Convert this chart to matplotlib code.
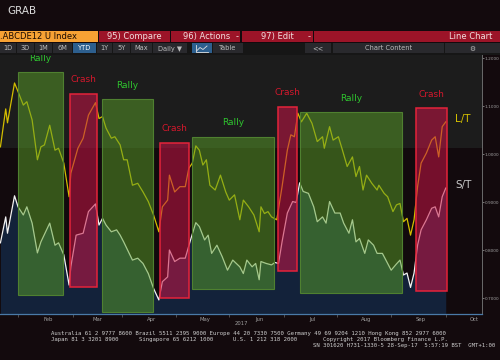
import pandas as pd
import matplotlib
matplotlib.use('Agg')
import matplotlib.pyplot as plt
import matplotlib.dates as mdates
from matplotlib.patches import Rectangle
from matplotlib.lines import Line2D

# Serie larga (L/T) y corta (S/T): dias desde el 1 ene 2017 y valor del indice
lt_days = [4, 7, 8, 12, 14, 17, 19, 22, 25, 27, 29, 32, 35, 37, 40, 43, 44, 48, 51, 54,
           58, 60, 62, 64, 67, 69, 72, 74, 76, 79, 82, 85, 88, 91, 94, 96, 99, 100, 103, 106,
           109, 111, 113, 115, 117, 119, 121, 123, 126, 129, 132, 134, 137, 140, 142, 145, 148, 151, 152, 154,
           156, 158, 161, 164, 167, 169, 171, 173, 175, 178, 181, 184, 187, 188, 191, 193, 196, 198, 201, 204,
           206, 208, 210, 212, 215, 218, 219, 222, 224, 227, 229, 231, 233, 235, 237, 239, 241, 243, 246, 249,
           251, 253, 255, 257]
lt_vals = [1.015, 1.094, 1.065, 1.148, 1.130, 1.102, 1.109, 1.071, 0.988, 1.015,
           1.019, 1.060, 1.008, 1.012, 0.981, 0.911, 0.960, 1.012, 1.033, 1.081,
           1.107, 1.074, 1.078, 1.054, 1.033, 1.036, 1.019, 0.988, 0.988, 0.935,
           0.939, 0.921, 0.901, 0.873, 0.838, 0.890, 0.904, 0.956, 0.921, 0.932,
           0.932, 0.970, 0.981, 1.017, 1.008, 0.977, 0.988, 0.935, 0.925, 0.956,
           0.921, 0.904, 0.915, 0.863, 0.904, 0.890, 0.873, 0.838, 0.890, 0.876,
           0.880, 0.869, 0.863, 0.932, 1.008, 1.040, 1.036, 1.085, 1.067, 1.085,
           1.064, 1.026, 1.036, 1.012, 1.057, 1.029, 1.036, 1.012, 0.974, 0.994,
           0.953, 0.974, 0.925, 0.956, 0.939, 0.925, 0.935, 0.918, 0.911, 0.880,
           0.894, 0.897, 0.859, 0.866, 0.831, 0.863, 0.932, 0.981, 1.002, 1.029,
           1.036, 0.994, 1.057, 1.067]

st_days = [4, 7, 8, 12, 14, 17, 19, 22, 25, 27, 32, 35, 37, 40, 43, 44, 47, 51, 54, 58,
           60, 62, 64, 67, 70, 72, 74, 79, 82, 85, 88, 91, 94, 96, 99, 100, 103, 106, 109, 112,
           115, 117, 120, 122, 124, 127, 130, 133, 136, 140, 142, 144, 147, 149, 151, 152, 155, 158, 160, 162,
           164, 167, 170, 172, 174, 176, 179, 182, 184, 187, 189, 191, 194, 197, 199, 202, 204, 206, 208, 211,
           213, 216, 218, 221, 223, 226, 229, 231, 233, 235, 237, 239, 241, 243, 246, 249, 251, 253, 255, 257]
st_vals = [0.815, 0.869, 0.835, 0.913, 0.890, 0.873, 0.890, 0.856, 0.794, 0.817,
           0.856, 0.810, 0.815, 0.790, 0.727, 0.765, 0.831, 0.835, 0.880, 0.896,
           0.852, 0.866, 0.852, 0.838, 0.842, 0.831, 0.817, 0.779, 0.783, 0.772,
           0.751, 0.720, 0.696, 0.734, 0.744, 0.800, 0.776, 0.783, 0.783, 0.821,
           0.857, 0.849, 0.821, 0.831, 0.793, 0.810, 0.786, 0.758, 0.779, 0.765,
           0.751, 0.779, 0.765, 0.772, 0.738, 0.776, 0.772, 0.769, 0.774, 0.772,
           0.817, 0.877, 0.901, 0.899, 0.940, 0.922, 0.918, 0.890, 0.859, 0.869,
           0.856, 0.901, 0.877, 0.877, 0.856, 0.835, 0.863, 0.817, 0.824, 0.793,
           0.821, 0.810, 0.793, 0.793, 0.779, 0.758, 0.771, 0.779, 0.748, 0.752,
           0.722, 0.752, 0.810, 0.842, 0.863, 0.887, 0.890, 0.869, 0.911, 0.929]

# Cajas de fases (Rally / Crash)
box_labels = ['Rally', 'Crash', 'Rally', 'Crash', 'Rally', 'Crash', 'Rally', 'Crash']
box_from = [14.0, 43.5, 61.5, 94.7, 113.0, 161.9, 174.2, 240.1]
box_to = [39.4, 59.0, 90.9, 111.0, 159.4, 172.3, 232.0, 257.6]
box_low = [0.706, 0.7235, 0.671, 0.6994, 0.718, 0.757, 0.711, 0.7146]
box_high = [1.170, 1.126, 1.114, 1.0235, 1.036, 1.0985, 1.087, 1.095]

y_ticks = [0.7, 0.8, 0.9, 1.0, 1.1, 1.2]

base = pd.Timestamp('2017-01-01')
def fecha(d):
    return base + pd.to_timedelta(d, unit='D')

W, H = 500, 360
fig = plt.figure(figsize=(W / 100, H / 100), dpi=100, facecolor='#130a0d')

def caja(x, y, w, h, color, z=1):
    fig.add_artist(Rectangle((x / W, 1 - (y + h) / H), w / W, h / H,
                             transform=fig.transFigure, facecolor=color,
                             edgecolor='none', zorder=z))

def texto(x, y, s, **kw):
    fig.text(x / W, 1 - y / H, s, va='center', **kw)

# ---- barra superior estilo terminal ----
texto(7, 11, 'GRAB', color='#dcdcdc', fontsize=7.5, ha='left')
caja(0, 30.5, 97.5, 11.5, '#f7a234')
texto(0, 36.3, '.ABCDE12 U Index', color='#1a0a00', fontsize=6, ha='left')
for x0, x1 in [(99, 169.5), (171, 240), (241.5, 312.5), (314, 500)]:
    caja(x0, 30.5, x1 - x0, 11.5, '#9c1428')
for x, s in [(134, '95) Compare'), (206.5, '96) Actions'), (237, '-'),
             (277.5, '97) Edit'), (309.5, '-')]:
    texto(x, 36.3, s, color='#f2dede', fontsize=6, ha='center')
texto(492, 36.3, 'Line Chart', color='#f2dede', fontsize=6, ha='right')

caja(0, 42.5, 500, 12, '#161616')
botones = [(0, 16, '1D'), (17, 34, '3D'), (35, 52, '1M'), (53, 72, '6M'), (73, 96, 'YTD'),
           (97, 112, '1Y'), (113, 130, '5Y'), (131, 152, 'Max'), (153, 187, 'Daily \u25bc'),
           (192, 212, ''), (213, 243, 'Table'), (305, 331, '<<'),
           (333, 444, 'Chart Content'), (445, 500, '\u2699')]
for x0, x1, s in botones:
    azul = s in ('YTD', '')
    caja(x0, 43.3, x1 - x0, 10, '#2d5f8e' if azul else '#29292d', z=2)
    texto((x0 + x1) / 2, 48.5, s, color='#ffffff' if azul else '#bdbdbd',
          fontsize=4.8, ha='center', zorder=3)
# icono de grafico de lineas
fig.add_artist(Line2D([196 / W, 196 / W, 208 / W], [1 - 45 / H, 1 - 52 / H, 1 - 52 / H],
                      transform=fig.transFigure, color='#e0e0e0', lw=0.6, zorder=4))
fig.add_artist(Line2D([197 / W, 200 / W, 203 / W, 207 / W],
                      [1 - 50.5 / H, 1 - 47.5 / H, 1 - 49.5 / H, 1 - 46 / H],
                      transform=fig.transFigure, color='#e0e0e0', lw=0.6, zorder=4))

# ---- area del grafico ----
ax = fig.add_axes([0, (H - 314) / H, 482 / W, (314 - 55) / H])
ax.set_facecolor('#120a0d')
y_min, y_max = 0.6667, 1.2063
ax.set_ylim(y_min, y_max)
ax.set_xlim(fecha(3.75), fecha(277.6))
ax.axhspan(1.0125, y_max, color='#1c1c1c', zorder=0, lw=0)

lt_x = fecha(lt_days)
st_x = fecha(st_days)
ax.fill_between(st_x, st_vals, y_min, color='#13223a', lw=0, zorder=1)
ax.plot(lt_x, lt_vals, color='#d2bd00', lw=0.9, zorder=2)
ax.plot(st_x, st_vals, color='#f2f2f2', lw=0.9, zorder=2)

for lab, d0, d1, lo, hi in zip(box_labels, box_from, box_to, box_low, box_high):
    x0 = mdates.date2num(fecha(d0))
    x1 = mdates.date2num(fecha(d1))
    if lab == 'Rally':
        face, edge, lw, tc = (90 / 255, 160 / 255, 40 / 255, 0.5), '#4f8030', 0.8, '#2fc42f'
    else:
        face, edge, lw, tc = (200 / 255, 20 / 255, 70 / 255, 0.55), '#e4233a', 1.1, '#d3182c'
    ax.add_patch(Rectangle((x0, lo), x1 - x0, hi - lo, facecolor=face,
                           edgecolor=edge, lw=lw, zorder=3))
    ax.annotate(lab, xy=((x0 + x1) / 2, hi), xytext=(0, 10), textcoords='offset points',
                ha='center', va='center', color=tc, fontsize=6.5, zorder=4)

ax.text(fecha(266.8), 1.073, 'L/T', color='#d4c000', fontsize=7.5, ha='center', va='center')
ax.text(fecha(267.4), 0.935, 'S/T', color='#c8c8c8', fontsize=7.5, ha='center', va='center')

# ejes
for lado in ['top', 'left']:
    ax.spines[lado].set_visible(False)
ax.spines['bottom'].set_color('#4a7aa8')
ax.spines['bottom'].set_linewidth(0.9)
ax.spines['right'].set_color('#6a6a6a')
ax.spines['right'].set_linewidth(0.7)

ax.yaxis.tick_right()
ax.set_yticks(y_ticks)
ax.set_yticklabels(['%.4f' % v for v in y_ticks])
ax.tick_params(axis='y', colors='#a0a0a0', labelsize=3.1, length=1.5, width=0.5, pad=0.5)

ax.xaxis.set_major_locator(mdates.MonthLocator())
ax.xaxis.set_major_formatter(mdates.DateFormatter('%b'))
ax.xaxis.set_minor_locator(mdates.MonthLocator(bymonthday=15))
ax.tick_params(axis='x', which='major', colors='#a0a0a0', labelsize=3.8, length=0, pad=2)
ax.tick_params(axis='x', which='minor', color='#6a6a6a', length=2, width=0.5)
texto(241, 323.5, '2017', color='#a0a0a0', fontsize=3.8, ha='center')

# ---- pie de pagina ----
pie = dict(color='#d0d0d0', fontsize=4.1, family='DejaVu Sans Mono', ha='left')
texto(50.7, 333.3, 'Australia 61 2 9777 8600 Brazil 5511 2395 9000 Europe 44 20 7330 7500 '
      'Germany 49 69 9204 1210 Hong Kong 852 2977 6000', **pie)
texto(50.7, 339.3, 'Japan 81 3 3201 8900', **pie)
texto(139, 339.3, 'Singapore 65 6212 1000', **pie)
texto(233.3, 339.3, 'U.S. 1 212 318 2000', **pie)
texto(322.7, 339.3, 'Copyright 2017 Bloomberg Finance L.P.', **pie)
texto(495, 345.7, 'SN 301620 H731-1330-5 28-Sep-17  5:57:19 BST  GMT+1:00',
      **{**pie, 'ha': 'right'})

plt.savefig('out.png', dpi=100, facecolor=fig.get_facecolor())
plt.close()
